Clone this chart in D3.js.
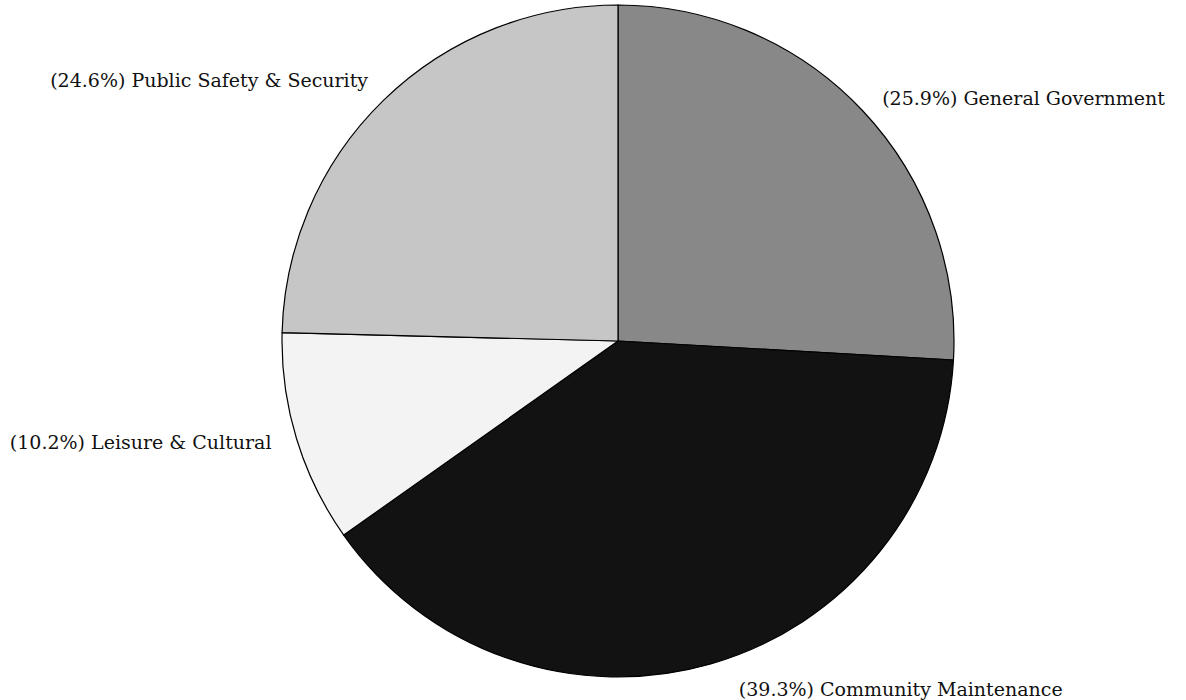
<!DOCTYPE html>
<html>
<head>
<meta charset="utf-8">
<script src="https://cdn.jsdelivr.net/npm/d3@7"></script>
<style>
  body { margin: 0; background: #fff; }
  text { font-family: "DejaVu Serif", serif; font-size: 19px; fill: #111; }
</style>
</head>
<body>
<script>
// Chart data
var categories = ["General Government", "Community Maintenance", "Leisure & Cultural", "Public Safety & Security"];
var shares = [25.9, 39.3, 10.2, 24.6];
var fills = ["#888888", "#121212", "#f3f3f3", "#c6c6c6"];

var svgWidth = 1186;
var svgHeight = 700;
var cx = 618, cy = 341, radius = 336;

// small per-label nudges so the labels sit like the original
var labelNudge = [[4, 3], [22, 4], [-4, -3], [0, -4]];

var svg = d3.select("body")
  .append("svg")
  .attr("width", svgWidth)
  .attr("height", svgHeight);

var chartGroup = svg.append("g")
  .attr("transform", `translate(${cx}, ${cy})`);

var data = categories.map(function(c, i) {
  return {name: c, value: shares[i], fill: fills[i], i: i};
});

var pie = d3.pie()
  .sort(null)
  .value(d => d.value);

var arc = d3.arc()
  .innerRadius(0)
  .outerRadius(radius);

var labelArc = d3.arc()
  .innerRadius(radius + 22)
  .outerRadius(radius + 22);

var arcs = pie(data);

chartGroup.selectAll("path")
  .data(arcs)
  .enter()
  .append("path")
  .attr("d", arc)
  .attr("fill", d => d.data.fill)
  .attr("stroke", "#000")
  .attr("stroke-width", 1.2);

chartGroup.selectAll("text.label")
  .data(arcs)
  .enter()
  .append("text")
  .attr("class", "label")
  .attr("x", d => labelArc.centroid(d)[0] + labelNudge[d.data.i][0])
  .attr("y", d => labelArc.centroid(d)[1] + labelNudge[d.data.i][1])
  .attr("dy", "0.35em")
  .style("text-anchor", function(d) {
    var mid = (d.startAngle + d.endAngle) / 2;
    return mid < Math.PI ? "start" : "end";
  })
  .text(d => "(" + d.data.value.toFixed(1) + "%) " + d.data.name);
</script>
</body>
</html>
